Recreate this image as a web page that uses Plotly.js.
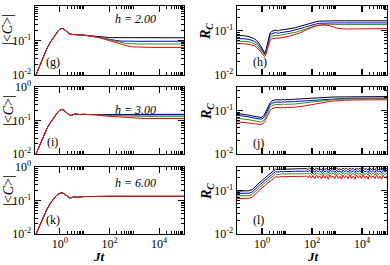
<!DOCTYPE html>
<html><head><meta charset="utf-8">
<script src="https://cdn.plot.ly/plotly-3.0.1.min.js"></script>
<style>html,body{margin:0;padding:0;background:#fff}#plot{width:390px;height:265px}</style>
</head><body><div id="plot"></div>
<script>
// ---------- times ----------
const tL = [0.1,0.13,0.17,0.22,0.3,0.4,0.5,0.6,0.7,0.85,1.0,1.2,1.4,1.7,2.0,2.5,3,3.5,4,5,6,7,8,10,13,17,22,30,40,50,70,100,130,170,220,300,400,500,700,1000,1500,2000,3000,5000,1e4,2e4,5e4,1e5];
const tR = [0.1,0.15,0.2,0.3,0.4,0.5,0.6,0.7,0.8,0.9,1.0,1.1,1.2,1.3,1.4,1.6,1.8,2.1,2.5,3,3.5,4,4.5,5,6,7,8,10,13,17,22,30,40,50,70,100,150,200,300,500,700,1000,2000,5000,1e4,2e4,5e4,1e5];
const tNoise = [60,70,80,95,110,130,150,175,200,240,280,330,380,450,520,600,700,820,950,1100,1300,1500,1750,2000,2400,2800,3300,3800,4500,5200,6000,7000,8200,9500,11000,13000,15000,17500,20000,24000,28000,33000,38000,45000,52000,60000,70000,82000,100000];

// ---------- (g) |<C>|, h = 2.00 ----------
const gEarly = [0.0085,0.0135,0.022,0.034,0.058,0.085,0.11,0.135,0.158,0.19,0.212,0.224,0.218,0.195,0.172,0.155,0.15,0.15,0.15,0.149,0.147,0.145,0.144,0.142,0.139,0.136,0.133];
const gBlackLate = [0.13,0.127,0.125,0.123,0.122,0.121,0.121,0.12,0.12,0.12,0.12,0.12,0.12,0.12,0.12,0.12,0.12,0.12,0.12,0.12,0.12];
const gBlueLate  = [0.128,0.123,0.119,0.113,0.107,0.103,0.1,0.098,0.096,0.095,0.095,0.095,0.095,0.095,0.095,0.095,0.095,0.095,0.095,0.095,0.095];
const gGreenLate = [0.127,0.122,0.117,0.11,0.103,0.098,0.094,0.09,0.087,0.084,0.082,0.08,0.079,0.079,0.079,0.079,0.079,0.079,0.079,0.079,0.079];
const gRedLate   = [0.126,0.12,0.115,0.107,0.099,0.093,0.088,0.083,0.078,0.073,0.07,0.067,0.065,0.064,0.063,0.063,0.063,0.063,0.063,0.063,0.063];

// ---------- (i) |<C>|, h = 3.00 ----------
const iEarly = [0.0085,0.0135,0.022,0.034,0.057,0.083,0.107,0.13,0.152,0.182,0.203,0.213,0.207,0.185,0.162,0.142,0.143,0.152,0.156,0.153,0.148,0.15,0.153,0.15,0.151,0.15,0.15];
const iBlackLate = [0.15,0.15,0.151,0.15,0.151,0.151,0.152,0.151,0.152,0.152,0.152,0.152,0.153,0.153,0.153,0.153,0.153,0.153,0.153,0.153,0.153];
const iBlueLate  = [0.149,0.149,0.149,0.148,0.148,0.148,0.148,0.147,0.147,0.147,0.147,0.147,0.147,0.147,0.147,0.147,0.147,0.147,0.147,0.147,0.147];
const iGreenLate = [0.147,0.146,0.145,0.143,0.141,0.14,0.139,0.138,0.137,0.136,0.135,0.134,0.133,0.132,0.131,0.131,0.13,0.13,0.13,0.13,0.13];
const iRedLate   = [0.144,0.141,0.139,0.136,0.133,0.131,0.129,0.127,0.125,0.123,0.121,0.12,0.118,0.117,0.116,0.115,0.115,0.114,0.114,0.114,0.114];

// ---------- (k) |<C>|, h = 6.00 (all four curves coincide) ----------
const kAll = [0.0085,0.0135,0.022,0.033,0.054,0.079,0.1,0.12,0.137,0.155,0.166,0.17,0.163,0.145,0.13,0.12,0.122,0.128,0.13,0.124,0.128,0.126,0.13,0.131,0.132,0.133,0.133,0.133,0.133,0.133,0.133,0.133,0.133,0.133,0.133,0.133,0.133,0.133,0.133,0.133,0.133,0.133,0.133,0.133,0.133,0.133,0.133,0.133];

// ---------- (h) R_C, h = 2.00 ----------
const hBlack = [0.077,0.077,0.076,0.073,0.069,0.065,0.06,0.055,0.049,0.044,0.039,0.035,0.032,0.031,0.034,0.047,0.067,0.088,0.096,0.1,0.102,0.1,0.098,0.101,0.104,0.105,0.106,0.107,0.109,0.112,0.116,0.122,0.128,0.133,0.142,0.15,0.158,0.162,0.164,0.165,0.165,0.165,0.165,0.165,0.165,0.165,0.165,0.165];
const hBlue  = [0.066,0.066,0.065,0.063,0.06,0.057,0.053,0.049,0.044,0.04,0.036,0.033,0.03,0.029,0.032,0.043,0.06,0.078,0.085,0.088,0.09,0.088,0.086,0.089,0.091,0.092,0.093,0.094,0.096,0.099,0.102,0.107,0.113,0.118,0.126,0.134,0.141,0.145,0.147,0.148,0.148,0.148,0.148,0.148,0.148,0.148,0.148,0.148];
const hGreen = [0.058,0.058,0.057,0.056,0.053,0.05,0.047,0.043,0.039,0.036,0.033,0.03,0.028,0.028,0.03,0.039,0.053,0.068,0.075,0.077,0.079,0.078,0.076,0.078,0.08,0.081,0.082,0.083,0.085,0.088,0.091,0.096,0.102,0.107,0.115,0.123,0.13,0.133,0.135,0.136,0.136,0.136,0.136,0.136,0.136,0.136,0.136,0.136];
const hRed   = [0.051,0.051,0.05,0.049,0.047,0.045,0.042,0.039,0.036,0.033,0.03,0.028,0.026,0.026,0.028,0.035,0.047,0.06,0.065,0.067,0.069,0.068,0.067,0.068,0.07,0.071,0.072,0.073,0.075,0.078,0.081,0.087,0.093,0.099,0.108,0.118,0.127,0.132,0.135,0.128,0.12,0.113,0.108,0.109,0.11,0.11,0.11,0.11];

// ---------- (j) R_C, h = 3.00 ----------
const jBlack = [0.087,0.085,0.083,0.079,0.076,0.074,0.072,0.071,0.07,0.07,0.071,0.074,0.079,0.086,0.094,0.112,0.13,0.152,0.17,0.178,0.18,0.18,0.179,0.179,0.178,0.184,0.178,0.184,0.18,0.184,0.186,0.188,0.19,0.192,0.194,0.197,0.2,0.202,0.204,0.206,0.208,0.209,0.21,0.211,0.212,0.212,0.213,0.213];
const jBlue  = [0.079,0.077,0.075,0.072,0.069,0.067,0.066,0.065,0.064,0.064,0.065,0.067,0.071,0.077,0.084,0.1,0.116,0.135,0.15,0.157,0.159,0.159,0.158,0.158,0.157,0.163,0.157,0.162,0.159,0.162,0.164,0.166,0.168,0.17,0.173,0.176,0.179,0.181,0.184,0.187,0.189,0.191,0.193,0.195,0.196,0.196,0.196,0.196];
const jGreen = [0.067,0.066,0.064,0.062,0.06,0.058,0.057,0.056,0.055,0.055,0.056,0.058,0.061,0.066,0.072,0.087,0.101,0.118,0.132,0.138,0.14,0.14,0.139,0.139,0.138,0.143,0.138,0.142,0.14,0.142,0.144,0.147,0.15,0.153,0.158,0.163,0.168,0.172,0.176,0.18,0.183,0.185,0.187,0.189,0.19,0.19,0.19,0.19];
const jRed   = [0.056,0.055,0.054,0.052,0.051,0.05,0.049,0.048,0.048,0.048,0.049,0.05,0.053,0.057,0.062,0.074,0.086,0.1,0.112,0.117,0.119,0.119,0.118,0.118,0.117,0.121,0.117,0.12,0.118,0.12,0.121,0.123,0.126,0.129,0.134,0.14,0.147,0.152,0.158,0.164,0.168,0.171,0.175,0.178,0.179,0.18,0.18,0.18];

// ---------- (l) R_C, h = 6.00 : smooth part on tR[0..33], noisy tail on tNoise ----------
const lBlack = [0.098,0.098,0.098,0.1,0.106,0.121,0.134,0.148,0.16,0.171,0.174,0.182,0.19,0.198,0.206,0.22,0.233,0.252,0.275,0.3,0.318,0.31,0.305,0.312,0.32,0.31,0.315,0.32,0.318,0.32,0.322,0.32,0.321,0.322];
const lBlue  = [0.087,0.087,0.087,0.088,0.093,0.106,0.118,0.13,0.14,0.15,0.153,0.16,0.167,0.174,0.181,0.193,0.205,0.221,0.242,0.263,0.279,0.272,0.268,0.274,0.281,0.272,0.277,0.281,0.279,0.281,0.283,0.281,0.282,0.283];
const lGreen = [0.076,0.076,0.076,0.077,0.082,0.093,0.103,0.114,0.123,0.132,0.134,0.14,0.146,0.152,0.159,0.169,0.179,0.194,0.212,0.231,0.245,0.239,0.235,0.24,0.246,0.239,0.243,0.246,0.245,0.246,0.248,0.246,0.247,0.248];
const lRed   = [0.066,0.066,0.066,0.067,0.071,0.081,0.09,0.099,0.107,0.115,0.117,0.122,0.127,0.133,0.138,0.147,0.156,0.169,0.184,0.201,0.213,0.208,0.204,0.209,0.214,0.208,0.211,0.214,0.213,0.214,0.216,0.214,0.215,0.216];
const lBlackNoise = [0.325,0.31,0.335,0.312,0.33,0.305,0.338,0.315,0.328,0.302,0.34,0.31,0.326,0.3,0.335,0.312,0.33,0.306,0.342,0.31,0.325,0.303,0.336,0.315,0.33,0.305,0.34,0.312,0.328,0.3,0.337,0.31,0.332,0.306,0.34,0.313,0.327,0.303,0.338,0.31,0.33,0.305,0.342,0.312,0.326,0.302,0.336,0.31,0.33];
const lBlueNoise  = [0.29,0.275,0.298,0.27,0.292,0.268,0.3,0.276,0.29,0.265,0.302,0.272,0.295,0.262,0.298,0.275,0.29,0.266,0.303,0.272,0.288,0.264,0.3,0.276,0.292,0.267,0.302,0.27,0.29,0.263,0.299,0.274,0.293,0.266,0.304,0.271,0.289,0.264,0.3,0.275,0.291,0.266,0.303,0.272,0.288,0.263,0.298,0.272,0.29];
const lGreenNoise = [0.255,0.24,0.262,0.235,0.258,0.232,0.265,0.24,0.256,0.23,0.268,0.238,0.26,0.228,0.264,0.24,0.255,0.232,0.268,0.237,0.253,0.229,0.265,0.241,0.257,0.232,0.267,0.236,0.255,0.228,0.264,0.24,0.258,0.231,0.269,0.236,0.254,0.229,0.265,0.24,0.256,0.232,0.268,0.237,0.253,0.228,0.263,0.238,0.255];
const lRedNoise   = [0.22,0.2,0.228,0.195,0.225,0.19,0.232,0.198,0.222,0.188,0.235,0.195,0.226,0.185,0.232,0.2,0.22,0.19,0.236,0.194,0.218,0.186,0.232,0.2,0.224,0.19,0.235,0.193,0.22,0.185,0.23,0.198,0.225,0.19,0.236,0.195,0.22,0.186,0.233,0.2,0.223,0.19,0.236,0.194,0.219,0.185,0.23,0.196,0.222];

// ---------- labels ----------
const panelLetters = ['(g)','(h)','(i)','(j)','(k)','(l)'];
const fieldLabels = ['h = 2.00','h = 3.00','h = 6.00'];
const xTickVals = [1,100,10000];
const xTickText = ['10<sup>0</sup>','10<sup>2</sup>','10<sup>4</sup>'];
const xMinor = [2,3,4,5,6,7,8,9,200,300,400,500,600,700,800,900,20000,30000,40000,50000,60000,70000,80000,90000];
const yLTickVals = [0.01,0.1,1];
const yLTickText = ['10<sup>-2</sup>','10<sup>-1</sup>','10<sup>0</sup>'];
const yRTickVals = [0.01,0.1];
const yRTickText = ['10<sup>-2</sup>','10<sup>-1</sup>'];
const yMinorL = [0.02,0.03,0.04,0.05,0.06,0.07,0.08,0.09,0.2,0.3,0.4,0.5,0.6,0.7,0.8,0.9];
const yMinorR = [0.02,0.03,0.04,0.05,0.06,0.07,0.08,0.09,0.2,0.3];

const colors = ['#000000','#0000ff','#1f9a1f','#ff0000'];

// ---------- build ----------
const W = 390, H = 265;
const colX = [[35,184],[237,387]];
const rowY = [[6,75],[87,154],[167,234]];
const px = v => v / W, py = v => 1 - v / H;

const traces = [];
function add(panel, x, ys) {
  ys.forEach((y, k) => traces.push({
    x: x, y: y, type: 'scatter', mode: 'lines',
    xaxis: 'x' + (panel === 1 ? '' : panel), yaxis: 'y' + (panel === 1 ? '' : panel),
    line: {color: colors[k], width: 1}, hoverinfo: 'skip'
  }));
}
add(1, tL, [gEarly.concat(gBlackLate), gEarly.concat(gBlueLate), gEarly.concat(gGreenLate), gEarly.concat(gRedLate)]);
add(2, tR, [hBlack, hBlue, hGreen, hRed]);
add(3, tL, [iEarly.concat(iBlackLate), iEarly.concat(iBlueLate), iEarly.concat(iGreenLate), iEarly.concat(iRedLate)]);
add(4, tR, [jBlack, jBlue, jGreen, jRed]);
add(5, tL, [kAll, kAll, kAll, kAll]);
const tLfull = tR.slice(0, 34).concat(tNoise);
add(6, tLfull, [lBlack.concat(lBlackNoise), lBlue.concat(lBlueNoise), lGreen.concat(lGreenNoise), lRed.concat(lRedNoise)]);

const FONT = 'Liberation Serif, Times New Roman, serif';
const layout = {
  width: W, height: H, margin: {l:0, r:0, t:0, b:0},
  paper_bgcolor: '#fff', plot_bgcolor: '#fff', showlegend: false,
  font: {family: FONT, size: 12, color: '#000'},
  annotations: []
};

function axBase() {
  return {
    type: 'log', showline: true, linewidth: 1.3, linecolor: '#000', mirror: 'ticks',
    ticks: 'inside', ticklen: 6, tickwidth: 1.1, tickcolor: '#000',
    showgrid: false, zeroline: false, tickmode: 'array',
    tickfont: {family: FONT, size: 12, color: '#000'},
    minor: {tickmode: 'array', ticks: 'inside', ticklen: 3, tickwidth: 1, tickcolor: '#000', showgrid: false}
  };
}

for (let r = 0; r < 3; r++) {
  for (let c = 0; c < 2; c++) {
    const p = r * 2 + c + 1;
    const suf = p === 1 ? '' : p;
    const xa = axBase();
    xa.domain = [px(colX[c][0]), px(colX[c][1])];
    xa.range = [-1, 5];
    xa.anchor = 'y' + suf;
    xa.tickvals = xTickVals;
    xa.ticktext = xTickText;
    xa.showticklabels = (r === 2);
    xa.ticklabelstandoff = -2;
    xa.minor.tickvals = xMinor;
    const ya = axBase();
    ya.domain = [py(rowY[r][1]), py(rowY[r][0])];
    ya.anchor = 'x' + suf;
    if (c === 0) {
      ya.range = [-2, 0];
      ya.tickvals = yLTickVals; ya.ticktext = yLTickText; ya.minor.tickvals = yMinorL;
    } else {
      ya.range = [-2, -0.45];
      ya.tickvals = yRTickVals; ya.ticktext = yRTickText; ya.minor.tickvals = yMinorR;
    }
    layout['xaxis' + suf] = xa;
    layout['yaxis' + suf] = ya;
  }
}

const ann = (x, y, text, opts) => layout.annotations.push(Object.assign({
  xref: 'paper', yref: 'paper', x: px(x), y: py(y), text: text, showarrow: false,
  xanchor: 'center', yanchor: 'middle', font: {family: FONT, size: 12, color: '#000'}
}, opts || {}));

const rowCenterLeft = [30, 111, 191];
const rowCenterRight = [32, 112, 192];
const letterPos = [[53,62],[260,62],[53,142],[258,143],[53,220],[258,220]];
for (let r = 0; r < 3; r++) {
  ann(8, rowCenterLeft[r], '|&lt;<i>C</i>&gt;|', {textangle: -90, font: {family: FONT, size: 14, color: '#000'}});
  ann(207, rowCenterRight[r], '<b><i>R</i></b><sub><b><i>C</i></b></sub>', {textangle: -90, font: {family: FONT, size: 14, color: '#000'}});
  ann(135, [19, 110, 183][r], '<i>' + fieldLabels[r] + '</i>', {});
}
panelLetters.forEach((s, k) => ann(letterPos[k][0], letterPos[k][1], s, {}));
const jtFont = {family: FONT, size: 13, color: '#000'};
ann(99, 265, '<b><i>Jt</i></b>', {yanchor: 'bottom', font: jtFont, borderpad: 0});
ann(313, 265, '<b><i>Jt</i></b>', {yanchor: 'bottom', font: jtFont, borderpad: 0});

Plotly.newPlot('plot', traces, layout, {staticPlot: true, displayModeBar: false});
</script>
</body></html>
